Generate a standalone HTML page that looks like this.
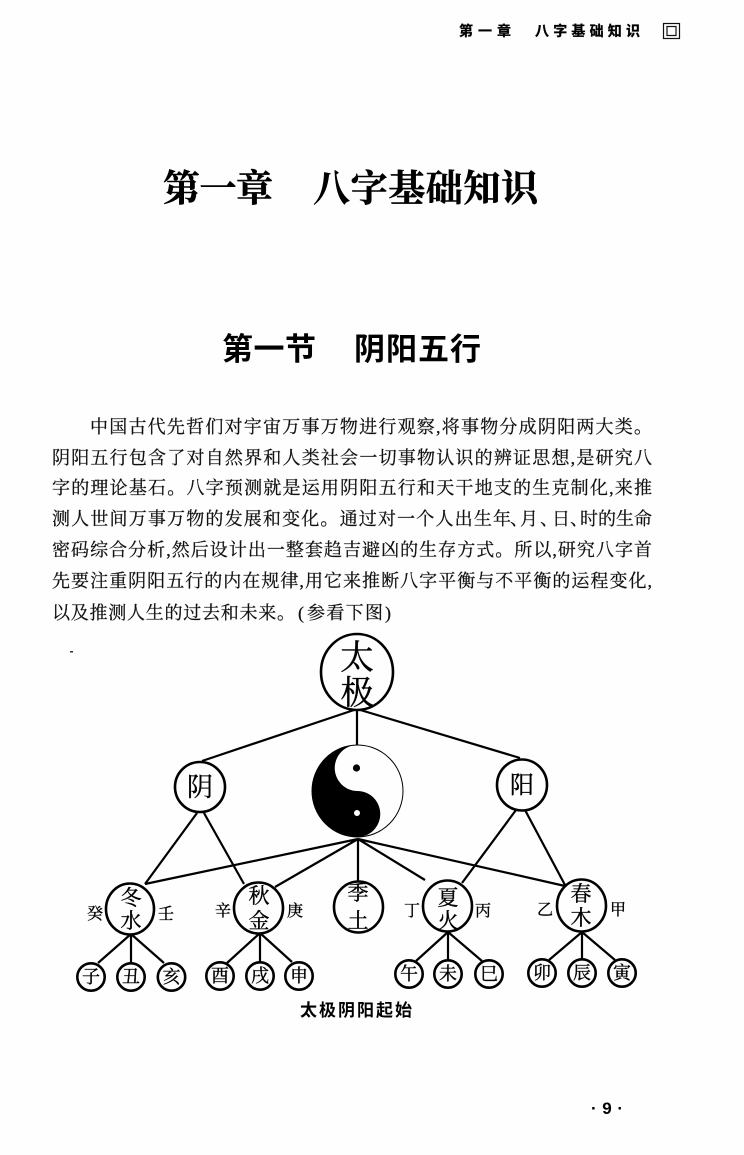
<!DOCTYPE html>
<html lang="zh">
<head>
<meta charset="utf-8">
<style>
html,body{margin:0;padding:0;background:#fefefe}
svg{display:block}
.b{font-family:"Liberation Serif","Noto Serif CJK SC",serif;font-size:18px;fill:#111;stroke:#111;stroke-width:.25px}
.h{font-family:"Liberation Sans","Noto Sans CJK SC",sans-serif;font-weight:700;font-size:14px;fill:#000;stroke:#000;stroke-width:.3px}
.t{font-family:"Liberation Serif","Noto Serif CJK SC",serif;font-weight:700;font-size:37px;fill:#000;stroke:#000;stroke-width:.5px}
.s{font-family:"Liberation Sans","Noto Sans CJK SC",sans-serif;font-weight:700;font-size:31px;fill:#000}
.k{font-family:"Liberation Serif","Noto Serif CJK SC",serif;fill:#000;stroke:#000;stroke-width:.35px;text-anchor:middle}
.l{stroke:#000;stroke-width:2.2;fill:none}
.c{stroke:#000;stroke-width:2.6;fill:#fefefe}
.m{font-size:18px}.n{font-size:21px}.o{font-size:16px}
</style>
</head>
<body>
<svg xmlns="http://www.w3.org/2000/svg" width="744" height="1155" viewBox="0 0 744 1155">
<rect width="744" height="1155" fill="#fefefe"/>

<text class="h" x="459" y="36" textLength="52" lengthAdjust="spacing">第一章</text>
<text class="h" x="535" y="36" textLength="105" lengthAdjust="spacing">八字基础知识</text>
<rect x="663.5" y="23.5" width="16" height="15" fill="none" stroke="#111" stroke-width="1.2"/>
<rect x="667" y="26.5" width="9" height="9" fill="none" stroke="#111" stroke-width="1.2"/>

<text class="t" x="163" y="201" textLength="110" lengthAdjust="spacing">第一章</text>
<text class="t" x="313" y="201" textLength="225" lengthAdjust="spacing">八字基础知识</text>

<text class="s" x="222" y="360" textLength="94" lengthAdjust="spacing">第一节</text>
<text class="s" x="354" y="360" textLength="127" lengthAdjust="spacing">阴阳五行</text>

<text class="b" x="90" y="433" textLength="562" lengthAdjust="spacing">中国古代先哲们对宇宙万事万物进行观察,将事物分成阴阳两大类。</text>
<text class="b" x="52" y="464" textLength="600" lengthAdjust="spacing">阴阳五行包含了对自然界和人类社会一切事物认识的辨证思想,是研究八</text>
<text class="b" x="52" y="494" textLength="600" lengthAdjust="spacing">字的理论基石。八字预测就是运用阴阳五行和天干地支的生克制化,来推</text>
<text class="b" x="52" y="525" textLength="459" lengthAdjust="spacing">测人世间万事万物的发展和变化。通过对一个人出生年</text>
<text class="b" x="510" y="525">、</text>
<text class="b" x="520" y="525">月</text>
<text class="b" x="540" y="525">、</text>
<text class="b" x="552" y="525">日</text>
<text class="b" x="570" y="525">、</text>
<text class="b" x="580" y="525" textLength="72" lengthAdjust="spacing">时的生命</text>
<text class="b" x="52" y="556" textLength="600" lengthAdjust="spacing">密码综合分析,然后设计出一整套趋吉避凶的生存方式。所以,研究八字首</text>
<text class="b" x="52" y="587" textLength="600" lengthAdjust="spacing">先要注重阴阳五行的内在规律,用它来推断八字平衡与不平衡的运程变化,</text>
<text class="b" x="52" y="619" textLength="243" lengthAdjust="spacing">以及推测人生的过去和未来。</text>
<text class="b" x="298" y="619">(</text>
<text class="b" x="307" y="619" textLength="76" lengthAdjust="spacing">参看下图</text>
<text class="b" x="385" y="619">)</text>

<!-- connectors -->
<path class="l" d="M357 709L202 761M357 709L520 758M357 709V745"/>
<path class="l" d="M197 813L145 884M204 813L244 884M516 810L462 883M525 810L565 885"/>
<path class="l" d="M358 839L145 884M358 839L275 887M358 839V882M358 839L425 880M358 839L565 886"/>
<path class="l" d="M131 934L98 963M131 934V963M131 934L164 963M260 933L227 963M260 933V962M260 933L292 962M448 932L416 961M448 932V960M448 932L482 961M582 932L549 960M582 932V959M582 932L615 960"/>

<!-- taiji symbol -->
<ellipse cx="357.5" cy="791" rx="45.5" ry="46" fill="#fefefe" stroke="#000" stroke-width="1"/>
<path d="M357.5 745A45.5 46 0 0 0 357.5 837A22.75 23 0 0 0 357.5 791A22.75 23 0 0 1 357.5 745Z" fill="#000"/>
<circle cx="356.5" cy="768" r="3.6" fill="#000"/>
<circle cx="357" cy="813" r="3" fill="#fefefe"/>

<!-- top node -->
<ellipse class="c" cx="357" cy="672" rx="36" ry="38"/>
<text class="k" x="357" y="669" font-size="34">太</text>
<text class="k" x="357" y="704" font-size="33">极</text>

<ellipse class="c" cx="200" cy="787" rx="25" ry="25"/>
<text class="k" x="200" y="796" font-size="26">阴</text>
<ellipse class="c" cx="522" cy="785" rx="25" ry="25.5"/>
<text class="k" x="522" y="793" font-size="24">阳</text>

<!-- five elements -->
<ellipse class="c" cx="130" cy="909" rx="24" ry="25.5"/>
<text class="k n" x="131" y="905">冬</text><text class="k n" x="131" y="928">水</text>
<ellipse class="c" cx="258.5" cy="908" rx="24.5" ry="25.5"/>
<text class="k n" x="259" y="903">秋</text><text class="k n" x="259" y="928">金</text>
<ellipse class="c" cx="358.5" cy="907" rx="24.5" ry="25.5"/>
<text class="k n" x="358" y="900">季</text><text class="k n" x="358" y="928">土</text>
<ellipse class="c" cx="447.5" cy="906" rx="24.5" ry="25.5"/>
<text class="k n" x="448" y="905">夏</text><text class="k n" x="448" y="928">火</text>
<ellipse class="c" cx="581.5" cy="905.5" rx="24.5" ry="26"/>
<text class="k n" x="581" y="901">春</text><text class="k n" x="581" y="925">木</text>

<!-- stems -->
<text class="k o" x="95" y="919">癸</text><text class="k o" x="166" y="919">壬</text>
<text class="k o" x="223" y="916">辛</text><text class="k o" x="295" y="916">庚</text>
<text class="k o" x="412" y="916">丁</text><text class="k o" x="483" y="916">丙</text>
<text class="k o" x="545" y="915">乙</text><text class="k o" x="618" y="915">甲</text>

<!-- branches -->
<g>
<circle class="c" cx="91" cy="977" r="13.7"/><text class="k m" x="91" y="983">子</text>
<circle class="c" cx="131" cy="977" r="13.7"/><text class="k m" x="131" y="983">丑</text>
<circle class="c" cx="171.5" cy="977" r="13.7"/><text class="k m" x="171.5" y="983">亥</text>
<circle class="c" cx="220" cy="976" r="13.7"/><text class="k m" x="220" y="982">酉</text>
<circle class="c" cx="260" cy="976" r="13.7"/><text class="k m" x="260" y="982">戌</text>
<circle class="c" cx="299" cy="976" r="13.7"/><text class="k m" x="299" y="982">申</text>
<circle class="c" cx="409" cy="974" r="13.7"/><text class="k m" x="409" y="980">午</text>
<circle class="c" cx="448" cy="974" r="13.7"/><text class="k m" x="448" y="980">未</text>
<circle class="c" cx="489" cy="974" r="13.7"/><text class="k m" x="489" y="980">巳</text>
<circle class="c" cx="542" cy="973" r="13.7"/><text class="k m" x="542" y="979">卯</text>
<circle class="c" cx="582" cy="973" r="13.7"/><text class="k m" x="582" y="979">辰</text>
<circle class="c" cx="622" cy="973" r="13.7"/><text class="k m" x="622" y="979">寅</text>
</g>

<text x="300" y="1016" font-family="'Liberation Sans','Noto Sans CJK SC',sans-serif" font-weight="700" font-size="17" textLength="112" lengthAdjust="spacing">太极阴阳起始</text>
<text x="591" y="1114" font-family="'Liberation Sans','Noto Sans CJK SC',sans-serif" font-weight="700" font-size="17" textLength="32" lengthAdjust="spacing">·9·</text>

<rect x="70" y="651" width="3" height="1.5" fill="#333"/>
</svg>
</body>
</html>
